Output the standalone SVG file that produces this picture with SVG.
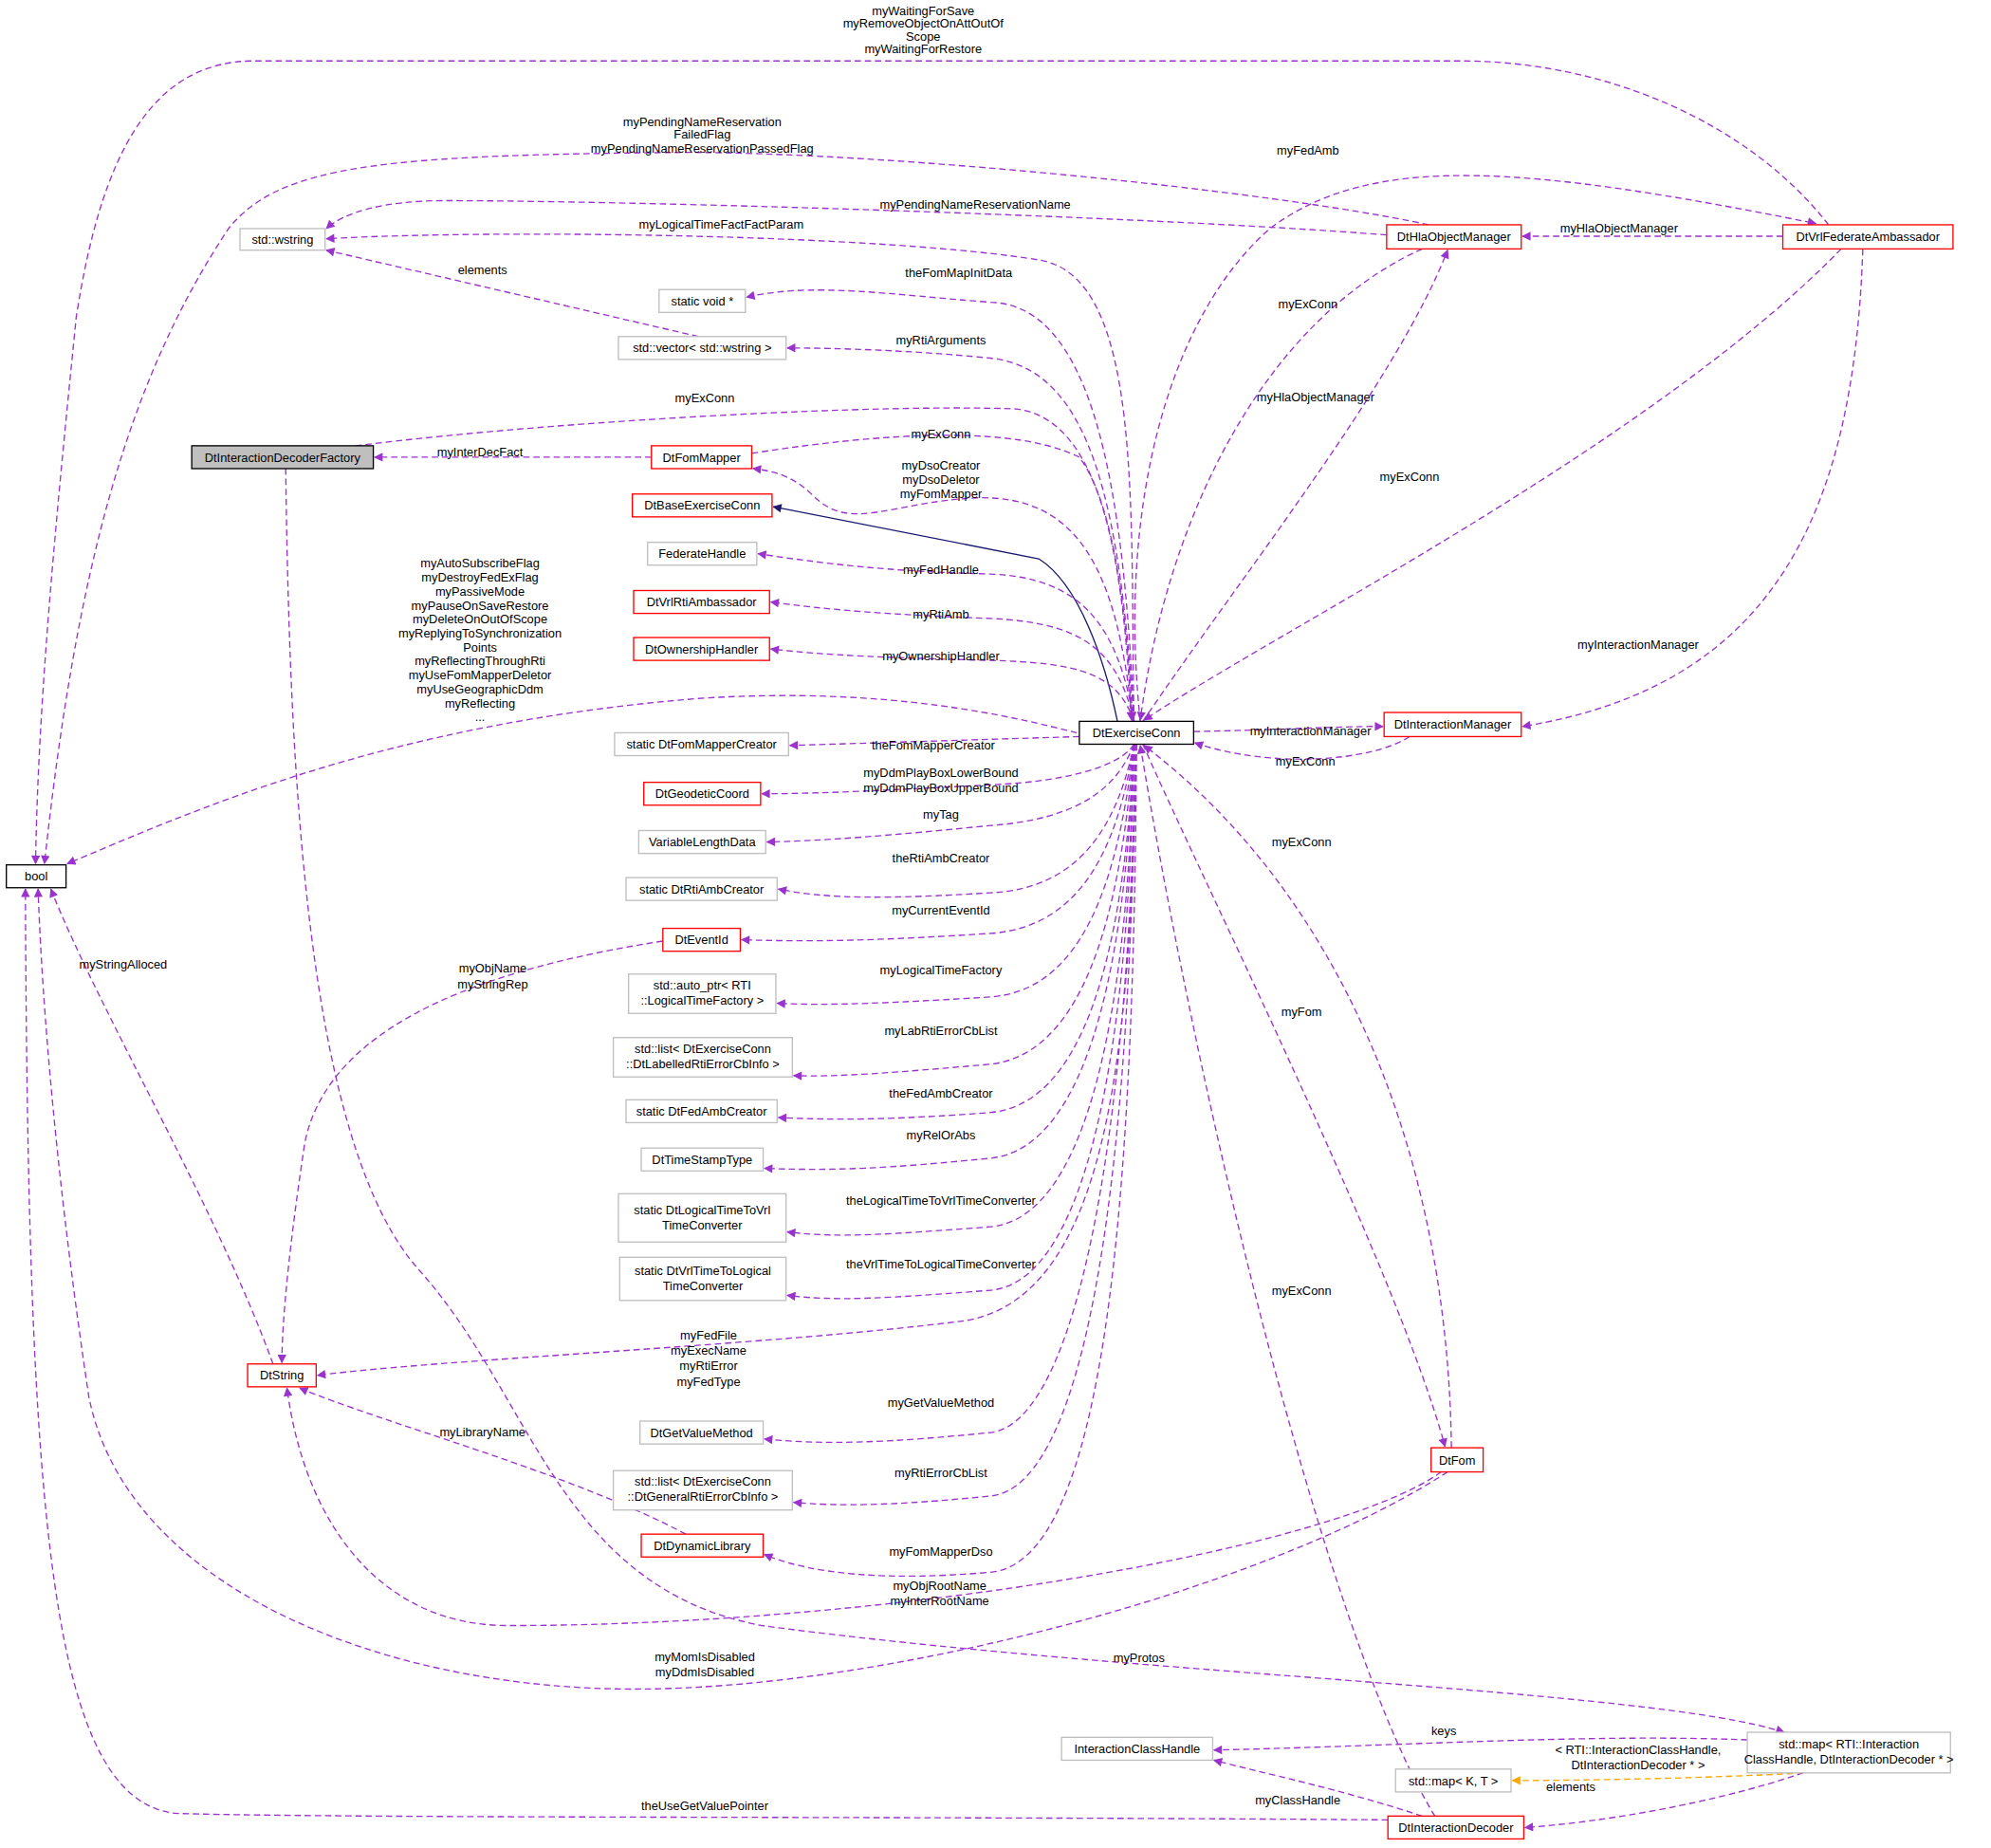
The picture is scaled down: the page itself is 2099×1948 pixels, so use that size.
<svg xmlns="http://www.w3.org/2000/svg" width="2099" height="1948" viewBox="0 0 2099 1948">
<style>
text{font-family:"Liberation Sans",Arial,sans-serif;font-size:9.6px;fill:#000}
.n text,.l{text-anchor:middle}
.g{fill:#fff;stroke:#bfbfbf}
.r{fill:#fff;stroke:#ff0000}
.b{fill:#fff;stroke:#000}
.e path{fill:none;stroke:#9a32cd;stroke-dasharray:5,3;marker-end:url(#a)}
.e path.o{stroke:#ffa500;marker-end:url(#ao)}
.e path.s{stroke:#191970;stroke-dasharray:none;marker-end:url(#an)}
</style>
<defs>
<marker id="a" viewBox="0 0 10 10" refX="9" refY="5" markerWidth="9" markerHeight="7" orient="auto" markerUnits="userSpaceOnUse"><path d="M0,0L10,5L0,10z" fill="#9a32cd"/></marker>
<marker id="ao" viewBox="0 0 10 10" refX="9" refY="5" markerWidth="9" markerHeight="7" orient="auto" markerUnits="userSpaceOnUse"><path d="M0,0L10,5L0,10z" fill="#ffa500"/></marker>
<marker id="an" viewBox="0 0 10 10" refX="9" refY="5" markerWidth="9" markerHeight="7" orient="auto" markerUnits="userSpaceOnUse"><path d="M0,0L10,5L0,10z" fill="#191970"/></marker>
</defs>
<rect width="2099" height="1948" fill="#fff"/>
<g transform="scale(1.3387)">
<g id="connectors" class="e">
<path d="M1440,177 C1380,100 1270,48 1150,48 L200,48 C120,48 80,120 60,250 C45,400 30,550 28,680"/>
<path d="M1125,177 C1000,150 700,120 540,120 C300,122 220,130 180,180 C100,300 60,450 35,680"/>
<path d="M1092,185 C900,170 500,158 350,158 C300,158 270,168 257,180"/>
<path d="M893,568 C890,400 900,220 820,205 C700,185 400,180 257,188"/>
<path d="M550,265 L257,197"/>
<path d="M893,568 C885,380 860,240 780,238 C700,232 640,222 588,234"/>
<path d="M893,568 C882,400 860,290 780,282 C720,276 660,274 620,274"/>
<path d="M280,351 C450,330 700,318 800,322 C870,330 885,450 891,567"/>
<path d="M592,357 C700,340 800,335 850,360 C880,400 888,500 892,567"/>
<path d="M513,360 L295,360"/>
<path d="M892,568 C880,450 850,390 770,392 C700,395 670,420 640,390 C625,375 610,371 593,369"/>
<path class="s" d="M880,568 C870,520 850,460 818,440 L609,399"/>
<path d="M893,568 C880,490 850,455 780,452 C700,450 650,444 597,436"/>
<path d="M893,568 C880,510 850,490 780,487 C700,484 650,480 607,474"/>
<path d="M893,568 C880,530 850,522 780,520 C700,518 650,516 607,511"/>
<path d="M850,580 L622,587"/>
<path d="M893,586 C885,600 850,615 780,618 C700,622 650,625 600,625"/>
<path d="M893,586 C880,620 850,645 780,650 C700,658 650,662 604,663"/>
<path d="M893,586 C880,650 850,700 780,703 C700,708 650,708 613,700"/>
<path d="M893,586 C880,670 850,730 780,735 C700,740 650,742 584,740"/>
<path d="M893,586 C880,700 850,780 780,785 C700,790 650,792 612,790"/>
<path d="M893,586 C882,730 850,830 780,838 C700,845 660,848 625,847"/>
<path d="M893,586 C885,760 850,870 780,876 C700,882 660,882 613,880"/>
<path d="M893,586 C886,780 850,905 780,912 C700,920 660,922 602,920"/>
<path d="M893,586 C888,820 850,960 780,966 C700,972 660,975 620,970"/>
<path d="M893,586 C889,850 850,1010 780,1016 C700,1022 660,1025 620,1020"/>
<path d="M895,586 C890,800 880,1020 760,1040 C600,1060 350,1070 250,1083"/>
<path d="M894,586 C890,880 850,1120 780,1128 C700,1136 650,1138 602,1133"/>
<path d="M894,586 C891,900 860,1170 780,1178 C700,1186 660,1186 625,1183"/>
<path d="M895,586 C893,950 870,1230 780,1238 C700,1245 640,1240 602,1224"/>
<path d="M540,1208 C450,1160 300,1120 236,1093"/>
<path d="M522,741 C400,760 260,800 240,900 C225,1000 222,1050 222,1073"/>
<path d="M215,1074 C170,950 80,800 40,700"/>
<path d="M848,577 C800,565 700,540 550,550 C300,570 150,640 53,680"/>
<path d="M225,369 C228,600 240,900 330,1000 C420,1100 440,1250 600,1280 C900,1320 1300,1330 1405,1364"/>
<path d="M1135,1159 C1050,1220 700,1280 400,1280 C300,1280 240,1200 226,1093"/>
<path d="M1140,1159 C1000,1250 700,1330 500,1330 C300,1330 100,1250 70,1100 C40,900 32,760 30,700"/>
<path d="M1093,1433 C700,1430 300,1432 140,1428 C40,1420 22,1200 20,700"/>
<path d="M1130,1430 C1050,1300 950,900 898,587"/>
<path d="M1120,1430 C1060,1410 990,1395 956,1386"/>
<path d="M1376,1370 C1250,1365 1100,1375 956,1378"/>
<path class="o" d="M1420,1396 C1350,1400 1250,1402 1191,1402"/>
<path d="M1420,1396 C1350,1420 1260,1435 1201,1439"/>
<path d="M900,586 C950,700 1100,1000 1138,1139"/>
<path d="M1143,1140 C1140,900 1050,700 901,587"/>
<path d="M940,576 C1000,575 1050,572 1089,572"/>
<path d="M1110,580 C1080,600 1000,605 941,585"/>
<path d="M1467,196 C1460,400 1400,540 1199,572"/>
<path d="M1450,196 C1300,350 1000,500 901,567"/>
<path d="M1404,186 L1199,186"/>
<path d="M900,568 C980,450 1100,300 1140,197"/>
<path d="M1120,196 C1000,250 920,400 898,567"/>
<path d="M898,568 C880,400 920,250 1000,180 C1080,120 1200,130 1430,176"/>
</g>
<g class="l">
<text x="727" y="12">myWaitingForSave</text><text x="727" y="22">myRemoveObjectOnAttOutOf</text><text x="727" y="32">Scope</text><text x="727" y="42">myWaitingForRestore</text>
<text x="553" y="99">myPendingNameReservation</text><text x="553" y="109">FailedFlag</text><text x="553" y="120">myPendingNameReservationPassedFlag</text>
<text x="768" y="164">myPendingNameReservationName</text>
<text x="568" y="180">myLogicalTimeFactFactParam</text>
<text x="380" y="216">elements</text>
<text x="755" y="218">theFomMapInitData</text>
<text x="741" y="271">myRtiArguments</text>
<text x="555" y="317">myExConn</text>
<text x="741" y="345">myExConn</text>
<text x="378" y="359">myInterDecFact</text>
<text x="741" y="370">myDsoCreator</text><text x="741" y="381">myDsoDeletor</text><text x="741" y="392">myFomMapper</text>
<text x="741" y="452">myFedHandle</text>
<text x="741" y="487">myRtiAmb</text>
<text x="741" y="520">myOwnershipHandler</text>
<text x="735" y="590">theFomMapperCreator</text>
<text x="741" y="612">myDdmPlayBoxLowerBound</text><text x="741" y="624">myDdmPlayBoxUpperBound</text>
<text x="741" y="645">myTag</text>
<text x="741" y="679">theRtiAmbCreator</text>
<text x="741" y="720">myCurrentEventId</text>
<text x="741" y="767">myLogicalTimeFactory</text>
<text x="741" y="815">myLabRtiErrorCbList</text>
<text x="741" y="864">theFedAmbCreator</text>
<text x="741" y="897">myRelOrAbs</text>
<text x="741" y="949">theLogicalTimeToVrlTimeConverter</text>
<text x="741" y="999">theVrlTimeToLogicalTimeConverter</text>
<text x="558" y="1055">myFedFile</text><text x="558" y="1067">myExecName</text><text x="558" y="1079">myRtiError</text><text x="558" y="1091">myFedType</text>
<text x="741" y="1108">myGetValueMethod</text>
<text x="741" y="1163">myRtiErrorCbList</text>
<text x="741" y="1225">myFomMapperDso</text>
<text x="380" y="1131">myLibraryName</text>
<text x="388" y="766">myObjName</text><text x="388" y="778">myStringRep</text>
<text x="97" y="763">myStringAlloced</text>
<text x="378" y="447">myAutoSubscribeFlag</text><text x="378" y="458">myDestroyFedExFlag</text><text x="378" y="469">myPassiveMode</text><text x="378" y="480">myPauseOnSaveRestore</text><text x="378" y="491">myDeleteOnOutOfScope</text><text x="378" y="502">myReplyingToSynchronization</text><text x="378" y="513">Points</text><text x="378" y="524">myReflectingThroughRti</text><text x="378" y="535">myUseFomMapperDeletor</text><text x="378" y="546">myUseGeographicDdm</text><text x="378" y="557">myReflecting</text><text x="378" y="568">...</text>
<text x="897" y="1309">myProtos</text>
<text x="740" y="1252">myObjRootName</text><text x="740" y="1264">myInterRootName</text>
<text x="555" y="1308">myMomIsDisabled</text><text x="555" y="1320">myDdmIsDisabled</text>
<text x="555" y="1425">theUseGetValuePointer</text>
<text x="1025" y="1020">myExConn</text>
<text x="1022" y="1421">myClassHandle</text>
<text x="1137" y="1366">keys</text>
<text x="1290" y="1381">&lt; RTI::InteractionClassHandle,</text><text x="1290" y="1393">DtInteractionDecoder * &gt;</text>
<text x="1237" y="1410">elements</text>
<text x="1025" y="800">myFom</text>
<text x="1025" y="666">myExConn</text>
<text x="1032" y="579">myInteractionManager</text>
<text x="1028" y="603">myExConn</text>
<text x="1290" y="511">myInteractionManager</text>
<text x="1110" y="379">myExConn</text>
<text x="1275" y="183">myHlaObjectManager</text>
<text x="1036" y="316">myHlaObjectManager</text>
<text x="1030" y="243">myExConn</text>
<text x="1030" y="122">myFedAmb</text>
</g>
<g class="n">
<g id="bool"><rect class="b" x="5" y="681" width="47" height="18"/><text x="28.5" y="693.5">bool</text></g>
<g id="wstring"><rect class="g" x="189" y="180" width="67" height="17"/><text x="222.5" y="192">std::wstring</text></g>
<g id="staticvoid"><rect class="g" x="519" y="228" width="68" height="18"/><text x="553" y="240.5">static void *</text></g>
<g id="vector"><rect class="g" x="487" y="265" width="132" height="18"/><text x="553" y="277.5">std::vector&lt; std::wstring &gt;</text></g>
<g id="DtInteractionDecoderFactory"><rect x="151" y="351" width="143" height="18" fill="#bfbfbf" stroke="#000"/><text x="222.5" y="363.5">DtInteractionDecoderFactory</text></g>
<g id="DtFomMapper"><rect class="r" x="513" y="351" width="79" height="18"/><text x="552.5" y="363.5">DtFomMapper</text></g>
<g id="DtBaseExerciseConn"><rect class="r" x="498" y="389" width="110" height="18"/><text x="553" y="401.5">DtBaseExerciseConn</text></g>
<g id="FederateHandle"><rect class="g" x="510" y="427" width="86" height="18"/><text x="553" y="439.5">FederateHandle</text></g>
<g id="DtVrlRtiAmbassador"><rect class="r" x="499" y="465" width="107" height="18"/><text x="552.5" y="477.5">DtVrlRtiAmbassador</text></g>
<g id="DtOwnershipHandler"><rect class="r" x="499" y="502" width="107" height="18"/><text x="552.5" y="514.5">DtOwnershipHandler</text></g>
<g id="FomMapperCreator"><rect class="g" x="484" y="577" width="137" height="18"/><text x="552.5" y="589.5">static DtFomMapperCreator</text></g>
<g id="DtGeodeticCoord"><rect class="r" x="507" y="616" width="92" height="18"/><text x="553" y="628.5">DtGeodeticCoord</text></g>
<g id="VariableLengthData"><rect class="g" x="503" y="654" width="100" height="18"/><text x="553" y="666.5">VariableLengthData</text></g>
<g id="RtiAmbCreator"><rect class="g" x="493" y="691" width="119" height="18"/><text x="552.5" y="703.5">static DtRtiAmbCreator</text></g>
<g id="DtEventId"><rect class="r" x="522" y="731" width="61" height="18"/><text x="552.5" y="743.5">DtEventId</text></g>
<g id="autoptr"><rect class="g" x="495" y="767" width="116" height="31"/><text x="553" y="779">std::auto_ptr&lt; RTI</text><text x="553" y="791">::LogicalTimeFactory &gt;</text></g>
<g id="list1"><rect class="g" x="483" y="817" width="141" height="31"/><text x="553.5" y="829">std::list&lt; DtExerciseConn</text><text x="553.5" y="841">::DtLabelledRtiErrorCbInfo &gt;</text></g>
<g id="FedAmbCreator"><rect class="g" x="493" y="866" width="119" height="18"/><text x="552.5" y="878.5">static DtFedAmbCreator</text></g>
<g id="DtTimeStampType"><rect class="g" x="505" y="904" width="96" height="18"/><text x="553" y="916.5">DtTimeStampType</text></g>
<g id="L2V"><rect class="g" x="487" y="940" width="132" height="38"/><text x="553" y="956">static DtLogicalTimeToVrl</text><text x="553" y="968">TimeConverter</text></g>
<g id="V2L"><rect class="g" x="488" y="990" width="131" height="34"/><text x="553.5" y="1004">static DtVrlTimeToLogical</text><text x="553.5" y="1016">TimeConverter</text></g>
<g id="DtString"><rect class="r" x="195" y="1074" width="54" height="18"/><text x="222" y="1086.5">DtString</text></g>
<g id="DtGetValueMethod"><rect class="g" x="504" y="1119" width="97" height="18"/><text x="552.5" y="1131.5">DtGetValueMethod</text></g>
<g id="list2"><rect class="g" x="483" y="1158" width="141" height="31"/><text x="553.5" y="1170">std::list&lt; DtExerciseConn</text><text x="553.5" y="1182">::DtGeneralRtiErrorCbInfo &gt;</text></g>
<g id="DtDynamicLibrary"><rect class="r" x="505" y="1208" width="96" height="18"/><text x="553" y="1220.5">DtDynamicLibrary</text></g>
<g id="DtExerciseConn"><rect class="b" x="850" y="568" width="90" height="18"/><text x="895" y="580.5">DtExerciseConn</text></g>
<g id="DtHlaObjectManager"><rect class="r" x="1092" y="177" width="106" height="19"/><text x="1145" y="190">DtHlaObjectManager</text></g>
<g id="DtVrlFederateAmbassador"><rect class="r" x="1404" y="177" width="134" height="19"/><text x="1471" y="190">DtVrlFederateAmbassador</text></g>
<g id="DtInteractionManager"><rect class="r" x="1090" y="561" width="108" height="19"/><text x="1144" y="574">DtInteractionManager</text></g>
<g id="DtFom"><rect class="r" x="1127" y="1140" width="41" height="19"/><text x="1147.5" y="1153">DtFom</text></g>
<g id="InteractionClassHandle"><rect class="g" x="836" y="1368" width="119" height="18"/><text x="895.5" y="1380.5">InteractionClassHandle</text></g>
<g id="mapKT"><rect class="g" x="1099" y="1393" width="91" height="18"/><text x="1144.5" y="1405.5">std::map&lt; K, T &gt;</text></g>
<g id="mapRTI"><rect class="g" x="1376" y="1364" width="160" height="32"/><text x="1456" y="1377">std::map&lt; RTI::Interaction</text><text x="1456" y="1389">ClassHandle, DtInteractionDecoder * &gt;</text></g>
<g id="DtInteractionDecoder"><rect class="r" x="1093" y="1430" width="107" height="18"/><text x="1146.5" y="1442.5">DtInteractionDecoder</text></g>
</g>
</g>
</svg>
